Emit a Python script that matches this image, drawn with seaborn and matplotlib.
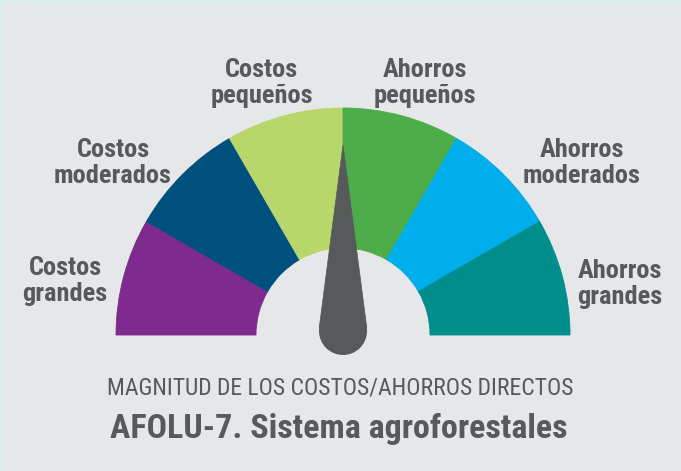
import numpy as np
import matplotlib
matplotlib.use("Agg")
import matplotlib.pyplot as plt
import matplotlib.font_manager as fm
from matplotlib.patches import Polygon, Circle, Rectangle
import seaborn as sns

# gauge categories, left to right
segments = ["Costos\ngrandes", "Costos\nmoderados", "Costos\npequeños",
            "Ahorros\npequeños", "Ahorros\nmoderados", "Ahorros\ngrandes"]
weights = [1, 1, 1, 1, 1, 1]
seg_colors = ["#7f2a8e", "#00507e", "#b8d76a", "#4cad4a", "#00aeeb", "#008e8c"]
needle_value = 3.0   # position on the 0..6 scale
subtitle = "MAGNITUD DE LOS COSTOS/AHORROS DIRECTOS"
title = "AFOLU-7. Sistema agroforestales"

W, H = 681, 471
TXT = "#58595b"

sns.set_theme(style="white")
names = {f.name for f in fm.fontManager.ttflist}
narrow = next((n for n in ["Liberation Sans Narrow", "Roboto Condensed",
                           "Open Sans Condensed", "DejaVu Sans"] if n in names), "DejaVu Sans")
plt.rcParams["font.family"] = [narrow, "DejaVu Sans"]

fig = plt.figure(figsize=(W / 100, H / 100), dpi=100, facecolor="#d8eeee")
ax = fig.add_axes([0, 0, 1, 1])

# gauge centre / radii in pixels
cx, cy, r_out, r_in = 343, 335, 227, 87
wedges, _ = ax.pie(weights + [sum(weights)], colors=seg_colors + ["none"],
                   startangle=180, counterclock=True, radius=r_out, center=(cx, cy),
                   wedgeprops=dict(width=r_out - r_in, linewidth=0.6))
for w, c in zip(wedges, seg_colors + ["none"]):
    w.set_edgecolor(c)
ax.set_xlim(0, W)
ax.set_ylim(H, 0)
ax.set_aspect("auto")
ax.axis("off")
ax.add_patch(Rectangle((3, 3), W, H, facecolor="#e6e7e8", edgecolor="none", zorder=-5))

# needle
bx, by, br, nlen = 343, 331, 24, 186
ang = np.radians(180 - needle_value / len(weights) * 180)
d = np.array([np.cos(ang), -np.sin(ang)])
tip = np.array([bx, by]) + nlen * d
phi = np.arccos(br / nlen)
pts = [tip]
for s in (1, -1):
    a = np.arctan2(d[1], d[0]) + s * phi
    pts.append((bx + br * np.cos(a), by + br * np.sin(a)))
ax.add_patch(Polygon([pts[1], pts[0], pts[2]], closed=True, facecolor=TXT, edgecolor=TXT, lw=0.5, zorder=5))
ax.add_patch(Circle((bx, by), br, facecolor=TXT, edgecolor="none", zorder=5))

# label anchors (centre x, first baseline y) in pixels
label_pos = [(65, 275), (113, 157), (262, 77), (425, 77), (582, 157), (620, 278)]
gap = 26
lab_size = 19
texts = []
for lab, (lx, ly) in zip(segments, label_pos):
    for i, line in enumerate(lab.split("\n")):
        t = ax.text(lx, ly + i * gap, line, ha="center", va="baseline",
                    fontsize=lab_size, fontweight="bold", color=TXT, fontstretch="condensed")
        texts.append(t)

st = ax.text(340, 395, subtitle, ha="center", va="baseline", fontsize=16,
             color=TXT, fontstretch="condensed")
tt = ax.text(339, 438, title, ha="center", va="baseline", fontsize=26,
             fontweight="bold", color=TXT, fontstretch="condensed")

# keep text widths close to the reference whatever narrow font is found
fig.canvas.draw()
rend = fig.canvas.get_renderer()
k = 123 / texts[3].get_window_extent(rend).width
if k < 1:
    for t in texts:
        t.set_fontsize(lab_size * k)
for t, target in ((st, 467), (tt, 458)):
    t.set_fontsize(t.get_fontsize() * target / t.get_window_extent(rend).width)

fig.savefig("out.png", dpi=100, facecolor=fig.get_facecolor())
